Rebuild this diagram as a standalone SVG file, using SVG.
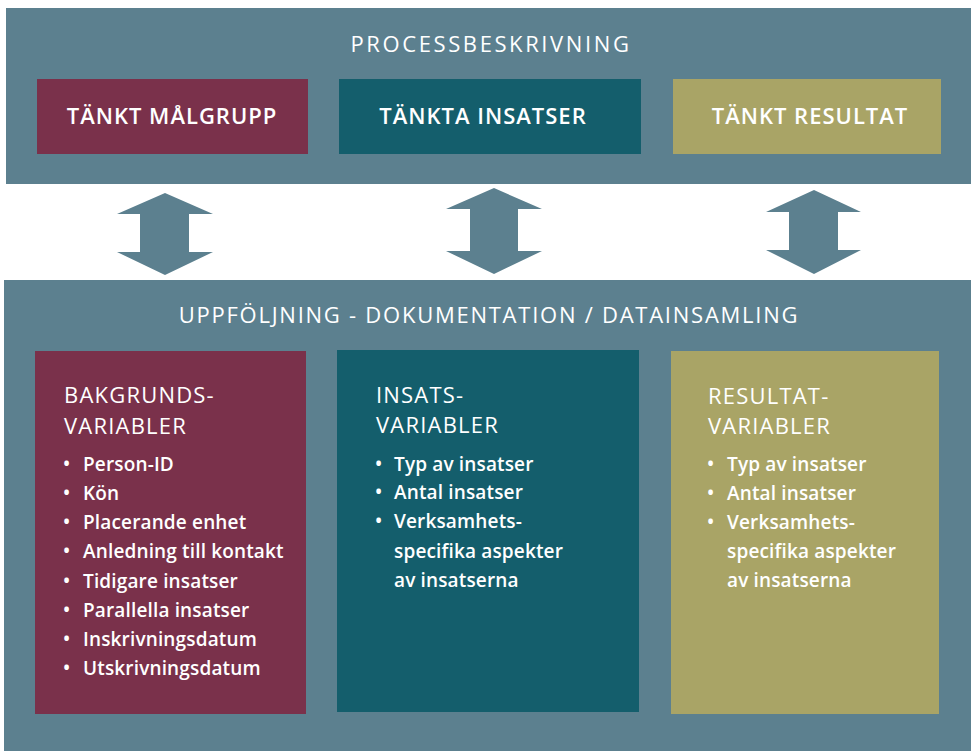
<svg xmlns="http://www.w3.org/2000/svg" width="971" height="751" viewBox="0 0 971 751">
  <style>
    .band { fill: #5c808f; }
    .maroon { fill: #7a314b; }
    .teal { fill: #145e6c; }
    .olive { fill: #a9a466; }
    .arrow { fill: #5c808f; }
    text { font-family: "Open Sans", "Liberation Sans", sans-serif; fill: #ffffff; }
    .title { font-size: 22px; font-weight: 500; text-anchor: middle; }
    .label { font-size: 22px; font-weight: 600; letter-spacing: 1px; text-anchor: middle; }
    .head { font-size: 22px; font-weight: 500; letter-spacing: 1.2px; }
    .item { font-size: 19px; font-weight: 600; letter-spacing: 0.15px; }
  </style>

  <!-- upper band: process description -->
  <g id="process">
    <rect class="band" x="6" y="8" width="965" height="176"/>
    <text class="title" x="491" y="52" letter-spacing="2.6">PROCESSBESKRIVNING</text>
  </g>
  <g id="malgrupp">
    <rect class="maroon" x="37" y="79" width="271" height="75"/>
    <text class="label" x="172" y="124">TÄNKT MÅLGRUPP</text>
  </g>
  <g id="insatser">
    <rect class="teal" x="339" y="79" width="302" height="75"/>
    <text class="label" x="483" y="124">TÄNKTA INSATSER</text>
  </g>
  <g id="resultat">
    <rect class="olive" x="673" y="79" width="268" height="75"/>
    <text class="label" x="810" y="124">TÄNKT RESULTAT</text>
  </g>

  <!-- two-way arrows between the bands -->
  <g id="connectors">
    <polygon class="arrow" points="165,193 213,214 189,214 189,252 213,252 165,275 117,252 140,252 140,214 117,214"/>
    <polygon class="arrow" points="494,188 542,209 518,209 518,251 542,251 494,274 446,251 470,251 470,209 446,209"/>
    <polygon class="arrow" points="814,190 861,212 838,212 838,250 861,250 814,274 766,250 789,250 789,212 766,212"/>
  </g>

  <!-- lower band: follow-up / data collection -->
  <g id="uppfoljning">
    <rect class="band" x="4" y="280" width="967" height="471"/>
    <text class="title" x="489" y="323" letter-spacing="1.75">UPPFÖLJNING - DOKUMENTATION / DATAINSAMLING</text>
  </g>

  <g id="bakgrundsvariabler">
    <rect class="maroon" x="35" y="351" width="271" height="363"/>
    <text class="head" x="64" y="403">BAKGRUNDS-</text>
    <text class="head" x="64" y="434">VARIABLER</text>
    <g class="item">
      <text x="63" y="471">•</text><text x="83" y="471">Person-ID</text>
      <text x="63" y="500">•</text><text x="83" y="500">Kön</text>
      <text x="63" y="529">•</text><text x="83" y="529">Placerande enhet</text>
      <text x="63" y="558">•</text><text x="83" y="558">Anledning till kontakt</text>
      <text x="63" y="588">•</text><text x="83" y="588">Tidigare insatser</text>
      <text x="63" y="617">•</text><text x="83" y="617">Parallella insatser</text>
      <text x="63" y="646">•</text><text x="83" y="646">Inskrivningsdatum</text>
      <text x="63" y="675">•</text><text x="83" y="675">Utskrivningsdatum</text>
    </g>
  </g>

  <g id="insatsvariabler">
    <rect class="teal" x="337" y="350" width="302" height="362"/>
    <text class="head" x="376" y="403">INSATS-</text>
    <text class="head" x="376" y="433">VARIABLER</text>
    <g class="item">
      <text x="375" y="471">•</text><text x="394" y="471">Typ av insatser</text>
      <text x="375" y="499">•</text><text x="394" y="499">Antal insatser</text>
      <text x="375" y="528">•</text><text x="394" y="528">Verksamhets-</text>
      <text x="394" y="558">specifika aspekter</text>
      <text x="394" y="587">av insatserna</text>
    </g>
  </g>

  <g id="resultatvariabler">
    <rect class="olive" x="671" y="351" width="268" height="363"/>
    <text class="head" x="708" y="404">RESULTAT-</text>
    <text class="head" x="708" y="434">VARIABLER</text>
    <g class="item">
      <text x="707" y="471">•</text><text x="727" y="471">Typ av insatser</text>
      <text x="707" y="500">•</text><text x="727" y="500">Antal insatser</text>
      <text x="707" y="529">•</text><text x="727" y="529">Verksamhets-</text>
      <text x="727" y="558">specifika aspekter</text>
      <text x="727" y="587">av insatserna</text>
    </g>
  </g>
</svg>
